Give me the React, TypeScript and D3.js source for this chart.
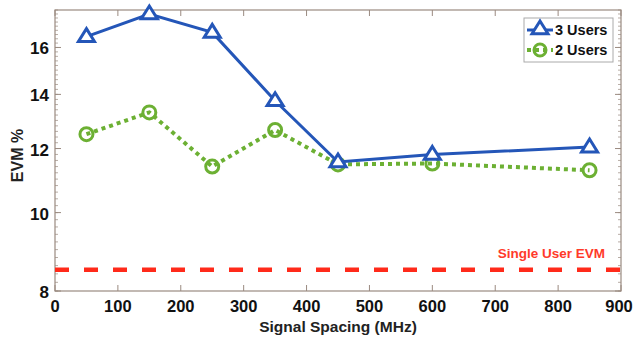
import React from "react";
import * as d3 from "d3";

const spacing = [50, 150, 250, 350, 450, 600, 850];
const users3 = [16.5, 17.6, 16.7, 13.75, 11.55, 11.8, 12.05];
const users2 = [12.5, 13.3, 11.4, 12.65, 11.47, 11.5, 11.28];
const singleUser = 8.5;
const xTicks = [0, 100, 200, 300, 400, 500, 600, 700, 800, 900];
const yTicks = [8, 10, 12, 14, 16];
const yMinor = d3.range(8, 17.81, 0.2);

const W = 633, H = 341;
const m = { l: 55, r: 12, t: 10, b: 50 };
const FONT = "'Liberation Sans', Arial, sans-serif";
const AX = "#9a8a80";

export default function App() {
  const x = d3.scaleLinear().domain([0, 900]).range([m.l, W - m.r]);
  const y = d3.scaleLog().domain([8, 17.8]).range([H - m.b, m.t]);
  const line = d3.line<number>().x((_, i) => x(spacing[i])).y((d) => y(d));
  const x0 = m.l, x1 = W - m.r, y0 = H - m.b, y1 = m.t;
  const tri = (cx: number, cy: number) => {
    const s = 8;
    return `M${cx},${cy - s}L${cx + s},${cy + s * 0.6}L${cx - s},${cy + s * 0.6}Z`;
  };
  return (
    <svg width={W} height={H} style={{ position: "absolute", left: 0, top: 0, background: "#fff" }} fontFamily={FONT}>
      <rect x={0} y={0} width={W} height={H} fill="#fff" />
      {yMinor.map((v, i) => (
        <g key={"mn" + i}>
          <line x1={x0} x2={x0 + 3} y1={y(v)} y2={y(v)} stroke={AX} strokeWidth={0.7} />
          <line x1={x1} x2={x1 - 3} y1={y(v)} y2={y(v)} stroke={AX} strokeWidth={0.7} />
        </g>
      ))}
      {yTicks.map((v) => (
        <g key={"y" + v}>
          <line x1={x0} x2={x0 + 6} y1={y(v)} y2={y(v)} stroke={AX} />
          <line x1={x1} x2={x1 - 6} y1={y(v)} y2={y(v)} stroke={AX} />
          <text x={x0 - 6} y={y(v) + 7} textAnchor="end" fontSize={17} fontWeight="bold" fill="#111">{v}</text>
        </g>
      ))}
      {xTicks.map((v) => (
        <g key={"x" + v}>
          <line x1={x(v)} x2={x(v)} y1={y0} y2={y0 - 6} stroke={AX} />
          <line x1={x(v)} x2={x(v)} y1={y1} y2={y1 + 6} stroke={AX} />
          <text x={v === 900 ? x(v) - 2 : x(v)} y={y0 + 21} textAnchor="middle" fontSize={16.5} fontWeight="bold" fill="#111">{v}</text>
        </g>
      ))}
      <rect x={x0} y={y1} width={x1 - x0} height={y0 - y1} fill="none" stroke={AX} strokeWidth={1.2} />
      <text x={x(450)} y={332} textAnchor="middle" fontSize={15.5} fontWeight="bold" fill="#222">Signal Spacing (MHz)</text>
      <text transform={`translate(23,${(y0 + y1) / 2 + 5}) rotate(-90)`} textAnchor="middle" fontSize={16} fontWeight="bold" fill="#222">EVM %</text>

      <line x1={x0} x2={x1} y1={y(singleUser)} y2={y(singleUser)} stroke="#ff2a1a" strokeWidth={4.5} strokeDasharray="14,15" />
      <text x={605} y={y(singleUser) - 12} textAnchor="end" fontSize={13.5} fontWeight="bold" fill="#ff3a2a">Single User EVM</text>

      <path d={line(users2) || ""} fill="none" stroke="#6cb033" strokeWidth={4} strokeDasharray="4,4" />
      {users2.map((v, i) => (
        <circle key={"c" + i} cx={x(spacing[i])} cy={y(v)} r={6.5} fill="none" stroke="#6cb033" strokeWidth={3} />
      ))}
      <path d={line(users3) || ""} fill="none" stroke="#2456b8" strokeWidth={3} />
      {users3.map((v, i) => (
        <path key={"t" + i} d={tri(x(spacing[i]), y(v))} fill="#fff" stroke="#2456b8" strokeWidth={3} />
      ))}

      <rect x={524} y={18} width={89} height={44} fill="#fff" stroke="#aaa" strokeWidth={1} />
      <line x1={527} x2={553} y1={30} y2={30} stroke="#2456b8" strokeWidth={3} />
      <path d={tri(540, 29)} fill="#fff" stroke="#2456b8" strokeWidth={3} />
      <text x={555} y={35} fontSize={14.5} fontWeight="bold" fill="#111">3 Users</text>
      <line x1={527} x2={553} y1={50} y2={50} stroke="#6cb033" strokeWidth={4} strokeDasharray="4,4" />
      <circle cx={540} cy={50} r={6} fill="none" stroke="#6cb033" strokeWidth={3} />
      <text x={555} y={55} fontSize={14.5} fontWeight="bold" fill="#111">2 Users</text>
    </svg>
  );
}
